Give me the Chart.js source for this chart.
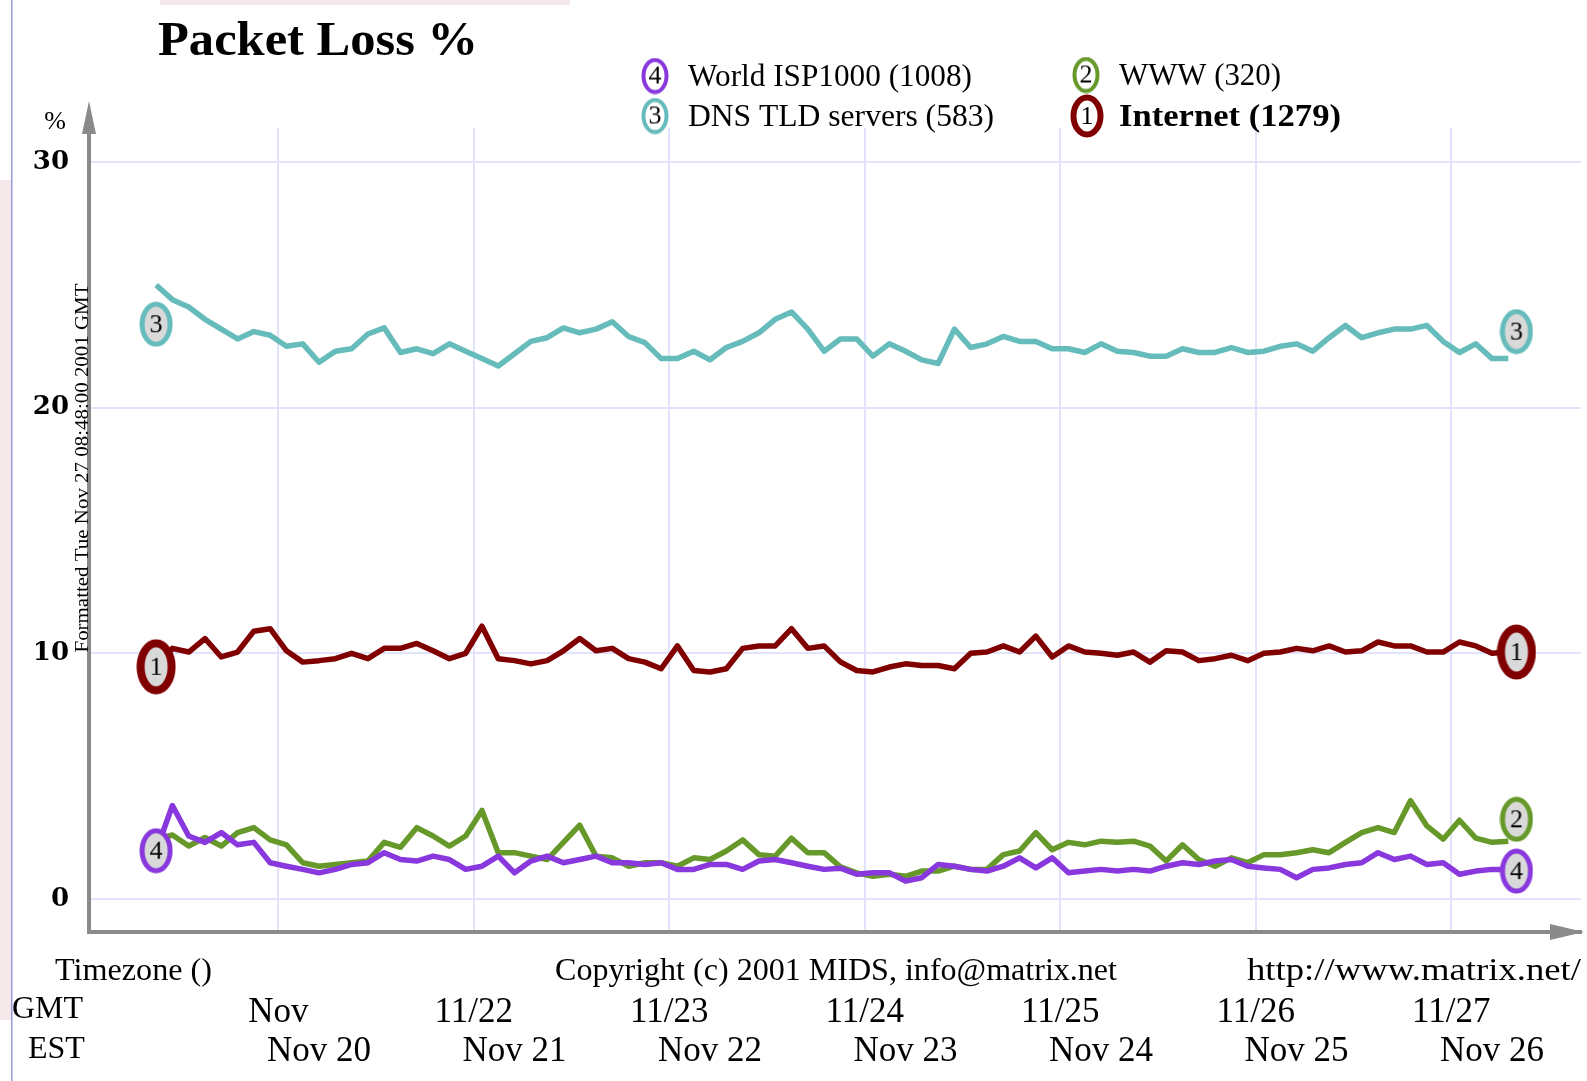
<!DOCTYPE html>
<html>
<head>
<meta charset="utf-8">
<title>Packet Loss %</title>
<script src="https://cdn.jsdelivr.net/npm/chart.js@4.4.1/dist/chart.umd.min.js"></script>
<style>
  html, body { margin: 0; padding: 0; background: #fff; }
  #wrap { width: 1587px; height: 1081px; }
</style>
</head>
<body>
<div id="wrap"><canvas id="lossChart" width="1587" height="1081"></canvas></div>
<script>
// samples every 2 hours, hours counted from 11/21 00:00 GMT
const firstHour = -15;
const stepHours = 2;

const internet = [
  9.5, 10.2, 10.05, 10.6, 9.85, 10.05, 10.9, 11.0, 10.1, 9.64,
  9.7, 9.78, 10.0, 9.78, 10.2, 10.2, 10.4, 10.1, 9.78, 10.0,
  11.1, 9.78, 9.7, 9.57, 9.7, 10.1, 10.6, 10.1, 10.2, 9.78,
  9.64, 9.37, 10.3, 9.3, 9.24, 9.37, 10.2, 10.3, 10.3, 11.0,
  10.2, 10.3, 9.65, 9.3, 9.24, 9.44, 9.57, 9.5, 9.5, 9.37,
  10.0, 10.05, 10.3, 10.05, 10.7, 9.85, 10.3, 10.05, 10.0, 9.92,
  10.05, 9.64, 10.1, 10.05, 9.7, 9.78, 9.92, 9.7, 10.0, 10.05,
  10.2, 10.1, 10.3, 10.05, 10.1, 10.46, 10.3, 10.3, 10.05, 10.05,
  10.46, 10.3, 10.0, 10.05
];
const www = [
  2.4, 2.6, 2.15, 2.5, 2.15, 2.7, 2.9, 2.4, 2.2, 1.47,
  1.33, 1.4, 1.47, 1.54, 2.3, 2.1, 2.9, 2.56, 2.15, 2.56,
  3.6, 1.88, 1.88, 1.74, 1.6, 2.3, 3.0, 1.74, 1.67, 1.33,
  1.47, 1.47, 1.33, 1.67, 1.6, 1.95, 2.4, 1.8, 1.74, 2.47,
  1.88, 1.88, 1.3, 1.06, 0.92, 1.0, 0.92, 1.13, 1.13, 1.33,
  1.2, 1.2, 1.8, 1.95, 2.7, 2.0, 2.3, 2.2, 2.35, 2.3,
  2.35, 2.15, 1.54, 2.2, 1.6, 1.33, 1.67, 1.47, 1.8, 1.8,
  1.88, 2.0, 1.88, 2.3, 2.7, 2.9, 2.7, 4.0, 2.97, 2.43,
  3.2, 2.47, 2.3, 2.35
];
const dnsTld = [
  25.0, 24.4, 24.1, 23.6, 23.2, 22.8, 23.1, 22.95, 22.5, 22.6,
  21.85, 22.3, 22.4, 23.0, 23.25, 22.25, 22.4, 22.2, 22.6, 22.3,
  22.0, 21.7, 22.2, 22.7, 22.85, 23.25, 23.05, 23.2, 23.5, 22.9,
  22.65, 22.0, 22.0, 22.3, 21.95, 22.45, 22.7, 23.05, 23.6, 23.9,
  23.2, 22.3, 22.8, 22.8, 22.1, 22.6, 22.3, 21.95, 21.8, 23.2,
  22.45, 22.6, 22.9, 22.7, 22.7, 22.4, 22.4, 22.25, 22.6, 22.3,
  22.25, 22.1, 22.1, 22.4, 22.25, 22.25, 22.45, 22.25, 22.3, 22.5,
  22.6, 22.3, 22.85, 23.35, 22.85, 23.05, 23.2, 23.2, 23.35, 22.7,
  22.25, 22.6, 22.0, 22.0
];
const worldIsp = [
  1.95, 3.8, 2.56, 2.3, 2.7, 2.2, 2.3, 1.47, 1.33, 1.2,
  1.06, 1.2, 1.4, 1.47, 1.88, 1.6, 1.54, 1.74, 1.6, 1.2,
  1.33, 1.74, 1.06, 1.54, 1.74, 1.47, 1.6, 1.74, 1.47, 1.47,
  1.4, 1.47, 1.2, 1.2, 1.4, 1.4, 1.2, 1.54, 1.6, 1.47,
  1.33, 1.2, 1.25, 1.0, 1.06, 1.06, 0.72, 0.86, 1.4, 1.33,
  1.2, 1.13, 1.33, 1.67, 1.26, 1.67, 1.06, 1.13, 1.2, 1.13,
  1.2, 1.13, 1.33, 1.47, 1.4, 1.54, 1.6, 1.33, 1.26, 1.2,
  0.86, 1.2, 1.26, 1.4, 1.47, 1.88, 1.6, 1.74, 1.4, 1.47,
  1.0, 1.13, 1.2, 1.2
];

// numbered end badges: [start, end]
const markHours = [-15, 152];
const internetMarks = [9.45, 10.05];
const wwwMarks = [null, 3.24];
const dnsMarks = [23.4, 23.1];
const ispMarks = [1.96, 1.13];

const gmtTickHours = [0, 24, 48, 72, 96, 120, 144];
const gmtLabels = ['Nov', '11/22', '11/23', '11/24', '11/25', '11/26', '11/27'];
const estTickHours = [5, 29, 53, 77, 101, 125, 149];
const estLabels = ['Nov 20', 'Nov 21', 'Nov 22', 'Nov 23', 'Nov 24', 'Nov 25', 'Nov 26'];
const yTicks = [0, 10, 20, 30];

const xMin = -23.24, xMax = 159.92;
const yMin = -1.35, yMax = 31.39;

const serif = '"Liberation Serif", "Times New Roman", serif';
const gridColor = '#e2e2fa';
const axisColor = '#8a8a8a';

const series = [
  { key: 'internet', num: '1', name: 'Internet (1279)', color: '#800000', vals: internet, marks: internetMarks, lw: 8, order: 4 },
  { key: 'www', num: '2', name: 'WWW (320)', color: '#66992a', vals: www, marks: wwwMarks, lw: 5, order: 3 },
  { key: 'dns', num: '3', name: 'DNS TLD servers (583)', color: '#66bbbb', vals: dnsTld, marks: dnsMarks, lw: 5, order: 2 },
  { key: 'isp', num: '4', name: 'World ISP1000 (1008)', color: '#8838dc', vals: worldIsp, marks: ispMarks, lw: 5, order: 1 }
];

function badge(num, color, lw, w, h, fill, size) {
  const c = document.createElement('canvas');
  c.width = w; c.height = h;
  const g = c.getContext('2d');
  g.beginPath();
  g.ellipse(w / 2, h / 2, w / 2 - lw / 2 - 0.5, h / 2 - lw / 2 - 0.5, 0, 0, Math.PI * 2);
  g.fillStyle = fill;
  g.fill();
  g.lineWidth = lw;
  g.strokeStyle = color;
  g.stroke();
  g.fillStyle = '#000';
  g.font = size + 'px ' + serif;
  g.textAlign = 'center';
  g.textBaseline = 'middle';
  g.fillText(num, w / 2, h / 2 + 1);
  return c;
}

// draw text squeezed/stretched to a given width, left edge at x
function fitText(ctx, s, x, y, width) {
  const w = ctx.measureText(s).width;
  ctx.save();
  ctx.translate(x, y);
  ctx.scale(width / w, 1);
  ctx.textAlign = 'left';
  ctx.fillText(s, 0, 0);
  ctx.restore();
}

const datasets = [];
series.forEach(s => {
  datasets.push({
    label: s.name,
    data: s.vals.map((v, i) => ({ x: firstHour + i * stepHours, y: v })),
    borderColor: s.color,
    borderWidth: 5.5,
    pointRadius: 0,
    tension: 0,
    borderJoinStyle: 'round',
    fill: false,
    order: s.order
  });
  const big = s.key === 'internet';
  const img = badge(s.num, s.color, s.lw, big ? 40 : 34, big ? 56 : 46, '#d9d9d9', 26);
  datasets.push({
    label: s.name + ' mark',
    data: s.marks.map((v, i) => ({ x: markHours[i], y: v })).filter(p => p.y !== null),
    showLine: false,
    pointStyle: img,
    pointRadius: 10,
    order: 0
  });
});

const decor = {
  id: 'decor',
  beforeDraw(chart) {
    const ctx = chart.ctx;
    ctx.save();
    ctx.fillStyle = '#fff';
    ctx.fillRect(0, 0, chart.width, chart.height);
    ctx.fillStyle = '#f4e8ea';
    ctx.fillRect(0, 180, 11, 840);
    ctx.fillRect(160, 0, 410, 5);
    ctx.fillStyle = '#9a9ad8';
    ctx.fillRect(11, 0, 1.5, chart.height);
    ctx.restore();
  },
  afterDraw(chart) {
    const ctx = chart.ctx;
    const area = chart.chartArea;
    ctx.save();

    // axis arrows
    ctx.strokeStyle = axisColor;
    ctx.fillStyle = axisColor;
    ctx.lineWidth = 4;
    ctx.beginPath();
    ctx.moveTo(area.left, area.top);
    ctx.lineTo(area.left, 112);
    ctx.moveTo(area.right, area.bottom);
    ctx.lineTo(1560, area.bottom);
    ctx.stroke();
    ctx.beginPath();
    ctx.moveTo(area.left, 101);
    ctx.lineTo(area.left + 7, 134);
    ctx.lineTo(area.left - 7, 134);
    ctx.closePath();
    ctx.fill();
    ctx.beginPath();
    ctx.moveTo(1584, area.bottom);
    ctx.lineTo(1550, area.bottom - 8);
    ctx.lineTo(1550, area.bottom + 8);
    ctx.closePath();
    ctx.fill();

    ctx.fillStyle = '#000';
    ctx.textBaseline = 'alphabetic';
    ctx.font = 'bold 49px ' + serif;
    fitText(ctx, 'Packet Loss %', 158, 55, 320);

    // legend, two columns
    const pos = { isp: [655, 76, 688, 284], dns: [655, 116, 688, 306], www: [1086, 75, 1119, 162], internet: [1087, 116, 1119, 222] };
    ctx.textBaseline = 'middle';
    series.forEach(s => {
      const p = pos[s.key];
      const big = s.key === 'internet';
      const img = badge(s.num, s.color, big ? 6 : 4, big ? 34 : 28, big ? 44 : 37, '#fff', 26);
      ctx.drawImage(img, p[0] - img.width / 2, p[1] - img.height / 2);
      ctx.font = (big ? 'bold ' : '') + '31px ' + serif;
      fitText(ctx, s.name, p[2], p[1] + 2, p[3]);
    });

    ctx.font = '26px ' + serif;
    ctx.textAlign = 'center';
    ctx.fillText('%', 55, 122);

    // run stamp along the y axis
    ctx.save();
    ctx.translate(83, 468);
    ctx.rotate(-Math.PI / 2);
    ctx.font = '19px ' + serif;
    const stamp = 'Formatted Tue Nov 27 08:48:00 2001 GMT';
    const sw = ctx.measureText(stamp).width;
    ctx.scale(369 / sw, 1);
    ctx.fillText(stamp, 0, 0);
    ctx.restore();

    ctx.font = '32px ' + serif;
    fitText(ctx, 'Timezone ()', 55, 972, 157);
    fitText(ctx, 'Copyright (c) 2001 MIDS, info@matrix.net', 555, 972, 562);
    fitText(ctx, 'http://www.matrix.net/', 1247, 972, 334);
    ctx.textAlign = 'left';
    ctx.fillText('GMT', 12, 1010);
    ctx.fillText('EST', 28, 1050);
    ctx.restore();
  }
};

new Chart(document.getElementById('lossChart'), {
  type: 'line',
  data: { datasets: datasets },
  options: {
    responsive: false,
    animation: false,
    events: [],
    layout: { autoPadding: false, padding: { top: 128, right: 6, left: 0, bottom: 0 } },
    plugins: { legend: { display: false }, tooltip: { enabled: false }, title: { display: false } },
    scales: {
      x: {
        type: 'linear', position: 'bottom', min: xMin, max: xMax, weight: 0,
        afterBuildTicks: s => { s.ticks = gmtTickHours.map(v => ({ value: v })); },
        afterFit: s => { s.height = 97; },
        grid: { color: gridColor, lineWidth: 2, drawTicks: false },
        border: { color: axisColor, width: 4 },
        ticks: {
          autoSkip: false, maxRotation: 0, padding: 60, color: '#000',
          font: { family: serif, size: 35 },
          callback: v => gmtLabels[gmtTickHours.indexOf(v)]
        }
      },
      xe: {
        type: 'linear', position: 'bottom', min: xMin, max: xMax, weight: 1,
        afterBuildTicks: s => { s.ticks = estTickHours.map(v => ({ value: v })); },
        afterFit: s => { s.height = 52; },
        grid: { display: false, drawTicks: false },
        border: { display: false },
        ticks: {
          autoSkip: false, maxRotation: 0, padding: 2, color: '#000',
          font: { family: serif, size: 35 },
          callback: v => estLabels[estTickHours.indexOf(v)]
        }
      },
      y: {
        min: yMin, max: yMax,
        afterBuildTicks: s => { s.ticks = yTicks.map(v => ({ value: v })); },
        afterFit: s => { s.width = 89; },
        grid: { color: gridColor, lineWidth: 2, drawTicks: false },
        border: { color: axisColor, width: 4 },
        ticks: { padding: 20, color: '#000', font: { family: '"DejaVu Serif", serif', size: 26, weight: 'bold' } }
      }
    }
  },
  plugins: [decor]
});
</script>
</body>
</html>
